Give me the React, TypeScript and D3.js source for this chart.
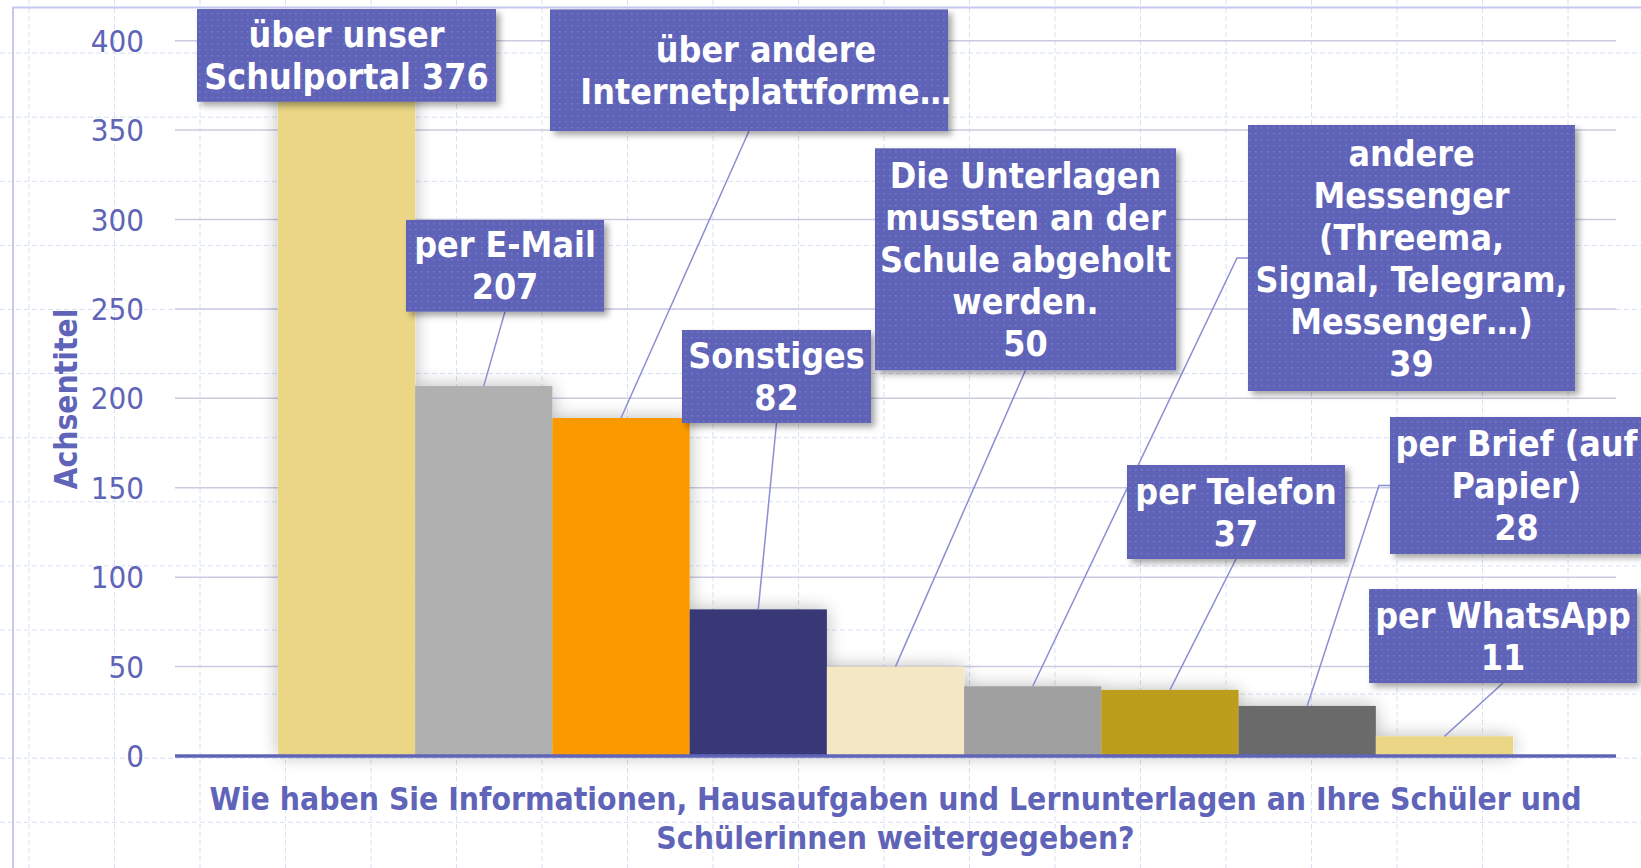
import React from "react";
import * as d3 from "d3";

// ---------- data ----------
const categories = [
  "über unser Schulportal",
  "per E-Mail",
  "über andere Internetplattformen",
  "Sonstiges",
  "Die Unterlagen mussten an der Schule abgeholt werden.",
  "andere Messenger (Threema, Signal, Telegram, Messenger...)",
  "per Telefon",
  "per Brief (auf Papier)",
  "per WhatsApp",
];
const values = [376, 207, 189, 82, 50, 39, 37, 28, 11];
const barColors = [
  "#EAD684", "#B0B0B0", "#FA9A00", "#373977", "#F3E8C3",
  "#A0A0A0", "#BD9E1E", "#6A6A6A", "#EAD684",
];
const labelLines = [
  ["über unser", "Schulportal"],
  ["per E-Mail"],
  ["über andere", "Internetplattforme…"],
  ["Sonstiges"],
  ["Die Unterlagen", "mussten an der", "Schule abgeholt", "werden."],
  ["andere", "Messenger", "(Threema,", "Signal, Telegram,", "Messenger…)"],
  ["per Telefon"],
  ["per Brief (auf", "Papier)"],
  ["per WhatsApp"],
];
const valuePlacement = ["inline", "newline", "none", "newline", "newline", "newline", "newline", "newline", "newline"];
const yTicks = [0, 50, 100, 150, 200, 250, 300, 350, 400];
const yTitle = "Achsentitel";
const xTitleLines = [
  "Wie haben Sie Informationen, Hausaufgaben und Lernunterlagen an Ihre Schüler und",
  "Schülerinnen weitergegeben?",
];

// ---------- layout ----------
const W = 1641;
const H = 868;
const plot = { left: 175, right: 1616, top: 40.7, bottom: 756 };
const labelBoxes = [
  { cx: 346.5, cy: 55.4, w: 299, h: 92.7, dx: 0 },
  { cx: 505, cy: 265.8, w: 198, h: 91.7, dx: 0 },
  { cx: 749, cy: 70.2, w: 398, h: 121.6, dx: 17 },
  { cx: 776.5, cy: 376.5, w: 189, h: 93, dx: 0 },
  { cx: 1025.5, cy: 259.3, w: 301, h: 222, dx: 0 },
  { cx: 1411.5, cy: 258, w: 327, h: 266, dx: 0 },
  { cx: 1236, cy: 512, w: 218, h: 94, dx: 0 },
  { cx: 1516.5, cy: 485.5, w: 253, h: 137, dx: 0 },
  { cx: 1503, cy: 636, w: 268, h: 94, dx: 0 },
];
const FONT = "'DejaVu Sans Condensed', 'DejaVu Sans', sans-serif";
const INK = "#6064B8";

export default function App() {
  const x = d3
    .scaleBand<string>()
    .domain(categories)
    .range([plot.left, plot.right])
    .paddingInner(0)
    .paddingOuter(0.75);
  const y = d3.scaleLinear().domain([0, 400]).range([plot.bottom, plot.top]);

  const bgV = d3.range(29, W + 20, 85.5);
  const bgH = d3.range(-11, H + 20, 64.1);

  const lineH = 42;

  return (
    <svg
      width={W}
      height={H}
      style={{ position: "absolute", left: 0, top: 0, background: "#fff", fontFamily: FONT, fontStretch: "condensed" }}
    >
      <defs>
        <pattern id="dots" width="6" height="6" patternUnits="userSpaceOnUse">
          <rect width="6" height="6" fill="#5F63B7" />
          <rect x="1" y="1" width="1.6" height="1.6" fill="#7478C4" />
        </pattern>
        <filter id="barShadow" x="-40%" y="-40%" width="180%" height="180%">
          <feGaussianBlur in="SourceAlpha" stdDeviation="9" result="b" />
          <feComponentTransfer in="b" result="s">
            <feFuncA type="linear" slope="0.28" />
          </feComponentTransfer>
          <feMerge>
            <feMergeNode in="s" />
            <feMergeNode in="SourceGraphic" />
          </feMerge>
        </filter>
        <filter id="boxShadow" x="-20%" y="-20%" width="140%" height="150%">
          <feDropShadow dx="4" dy="4" stdDeviation="3" floodColor="#000" floodOpacity="0.35" />
        </filter>
      </defs>

      {/* graph paper background */}
      <g stroke="#D6E0F6" strokeWidth={1} strokeDasharray="5 3" fill="none">
        {bgV.map((v, i) => (
          <line key={"v" + i} x1={v} x2={v} y1={0} y2={H} />
        ))}
        {bgH.map((v, i) => (
          <line key={"h" + i} x1={0} x2={W} y1={v} y2={v} />
        ))}
      </g>

      {/* chart border */}
      <rect x={13} y={7.5} width={W + 20} height={H + 20} fill="none" stroke="#C6C9EC" strokeWidth={2} />

      {/* gridlines */}
      <g stroke="#C9CBE0" strokeWidth={1.5}>
        {yTicks.filter((t) => t > 0).map((t) => (
          <line key={t} x1={plot.left} x2={plot.right} y1={y(t)} y2={y(t)} />
        ))}
      </g>

      {/* tick labels */}
      <g fill={INK} fontSize={31} textAnchor="end">
        {yTicks.map((t) => (
          <text key={t} x={144} y={y(t)} dominantBaseline="central">
            {t}
          </text>
        ))}
      </g>

      {/* y title */}
      <text
        transform={`translate(66,399) rotate(-90)`}
        fill={INK}
        fontWeight="bold"
        fontSize={31.5}
        textAnchor="middle"
        dominantBaseline="central"
      >
        {yTitle}
      </text>

      {/* bars */}
      <g filter="url(#barShadow)">
        {categories.map((c, i) => (
          <rect
            key={c}
            x={x(c)}
            y={y(values[i])}
            width={x.bandwidth()}
            height={y(0) - y(values[i])}
            fill={barColors[i]}
          />
        ))}
      </g>

      {/* axis line */}
      <line x1={plot.left} x2={plot.right} y1={y(0)} y2={y(0)} stroke={INK} strokeWidth={3.5} />

      {/* leader lines */}
      <g stroke="#8B8ED2" strokeWidth={1.5} fill="none">
        {categories.map((c, i) => {
          const b = labelBoxes[i];
          const bx = (x(c) as number) + x.bandwidth() / 2;
          const by = y(values[i]);
          const left = b.cx - b.w / 2;
          const right = b.cx + b.w / 2;
          const bottom = b.cy + b.h / 2;
          if (by <= bottom + 2) return null;
          let pts: [number, number][];
          if (bx < left) pts = [[left, b.cy], [left - 11, b.cy], [bx, by]];
          else if (bx > right) pts = [[right, b.cy], [right + 11, b.cy], [bx, by]];
          else pts = [[b.cx, bottom], [bx, by]];
          return <path key={c} d={d3.line()(pts) as string} />;
        })}
      </g>

      {/* label boxes */}
      {categories.map((c, i) => {
        const b = labelBoxes[i];
        const lines = [...labelLines[i]];
        if (valuePlacement[i] === "inline") lines[lines.length - 1] += " " + values[i];
        else if (valuePlacement[i] === "newline") lines.push(String(values[i]));
        const n = lines.length;
        return (
          <g key={c}>
            <rect
              x={b.cx - b.w / 2}
              y={b.cy - b.h / 2}
              width={b.w}
              height={b.h}
              fill="url(#dots)"
              filter="url(#boxShadow)"
            />
            {lines.map((ln, j) => (
              <text
                key={j}
                x={b.cx + b.dx}
                y={b.cy + (j - (n - 1) / 2) * lineH}
                textAnchor="middle"
                dominantBaseline="central"
                fill="#fff"
                fontWeight="bold"
                fontSize={35.5}
              >
                {ln}
              </text>
            ))}
          </g>
        );
      })}

      {/* x title */}
      {xTitleLines.map((t, i) => (
        <text
          key={i}
          x={(plot.left + plot.right) / 2}
          y={799 + i * 38.5}
          textAnchor="middle"
          dominantBaseline="central"
          fill={INK}
          fontWeight="bold"
          fontSize={31.6}
        >
          {t}
        </text>
      ))}
    </svg>
  );
}
